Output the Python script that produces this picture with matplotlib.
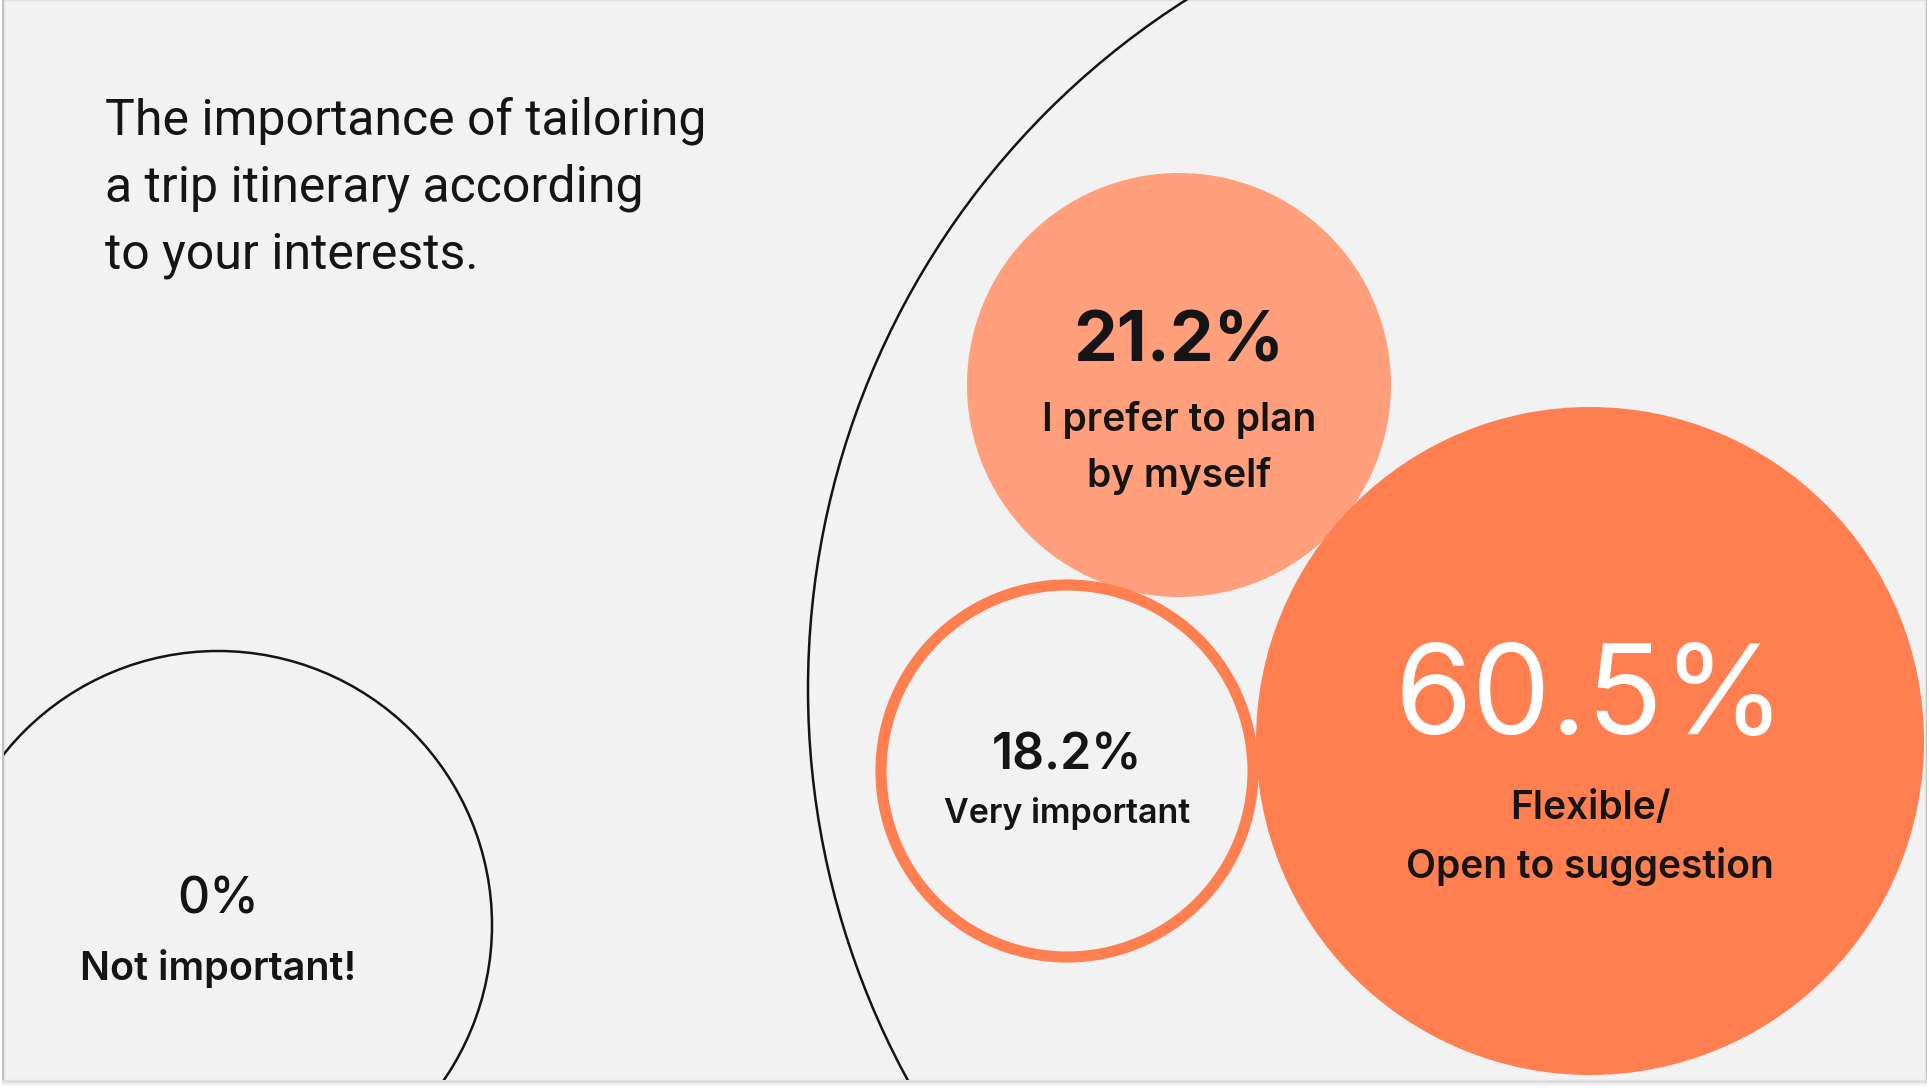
import matplotlib
matplotlib.use("Agg")
import matplotlib.pyplot as plt
from matplotlib.patches import Circle, Rectangle

W, H = 1929, 1088
BG = "#f2f2f2"

title_lines = ["The importance of tailoring", "a trip itinerary according", "to your interests."]

# survey answers
shares = ["60.5%", "21.2%", "18.2%", "0%"]
labels = ["Flexible/\nOpen to suggestion", "I prefer to plan\nby myself", "Very important", "Not important!"]

# bubble layout (pixels, y down)
centers = [(1590, 741), (1179, 385), (1067, 771), (218, 925)]
radii = [334, 212, 186, 274]
big_ring = ((1625, 689), 817)

fig = plt.figure(figsize=(W / 100, H / 100), dpi=100)
fig.patch.set_facecolor("white")
ax = fig.add_axes([0, 0, 1, 1])
ax.set_xlim(0, W)
ax.set_ylim(H, 0)
ax.set_aspect("equal")
ax.axis("off")

# card with a soft bottom shadow
for i, a in enumerate([0.10, 0.08, 0.06, 0.04]):
    ax.add_patch(Rectangle((2, 0), W - 4, 1080 + 2 * i, color="black", alpha=a, lw=0, zorder=0))
card = Rectangle((4, 0), W - 8, 1080, facecolor=BG, edgecolor="#e2e2e2", lw=1, zorder=1)
ax.add_patch(card)

# big outline arc
ring = Circle(big_ring[0], big_ring[1], facecolor="none", edgecolor="#151515", lw=1.8, zorder=2)
ax.add_patch(ring)
ring.set_clip_path(card)

# bubbles
c0 = Circle(centers[0], radii[0], facecolor="#ff7f50", edgecolor="none", zorder=4)
c1 = Circle(centers[1], radii[1], facecolor="#ff9f7b", edgecolor="none", zorder=3)
c2 = Circle(centers[2], radii[2], facecolor="none", edgecolor="#ff7f50", lw=8, zorder=3)
c3 = Circle(centers[3], radii[3], facecolor="none", edgecolor="#151515", lw=1.8, zorder=3)
for c in (c0, c1, c2, c3):
    ax.add_patch(c)
    c.set_clip_path(card)

# title
for i, line in enumerate(title_lines):
    ax.text(105, 121 + i * 67, line, fontsize=36, family="Roboto", color="#151515",
            ha="left", va="center", zorder=6)

ink = "#151515"
lab_font = "Inter"

# 60.5%
ax.text(centers[0][0], 701, shares[0], fontsize=90, family=lab_font, color="white",
        ha="center", va="center", zorder=6)
ax.text(centers[0][0], 838, labels[0], fontsize=28, family=lab_font, weight="semibold",
        color=ink, ha="center", va="center", linespacing=1.62, zorder=6)

# 21.2%
ax.text(centers[1][0], 343, shares[1], fontsize=50, family=lab_font, weight="bold",
        color=ink, ha="center", va="center", zorder=6)
ax.text(centers[1][0], 448, labels[1], fontsize=28, family=lab_font, weight="semibold",
        color=ink, ha="center", va="center", linespacing=1.62, zorder=6)

# 18.2%
ax.text(centers[2][0], 756, shares[2], fontsize=36, family=lab_font, weight="semibold",
        color=ink, ha="center", va="center", zorder=6)
ax.text(centers[2][0], 813, labels[2], fontsize=24.5, family=lab_font, weight="semibold",
        color=ink, ha="center", va="center", zorder=6)

# 0%
ax.text(centers[3][0], 900, shares[3], fontsize=36, family=lab_font, weight="medium",
        color=ink, ha="center", va="center", zorder=6)
ax.text(centers[3][0], 969, labels[3], fontsize=28.5, family=lab_font, weight="semibold",
        color=ink, ha="center", va="center", zorder=6)

fig.savefig("out.png", dpi=100, facecolor="white")
